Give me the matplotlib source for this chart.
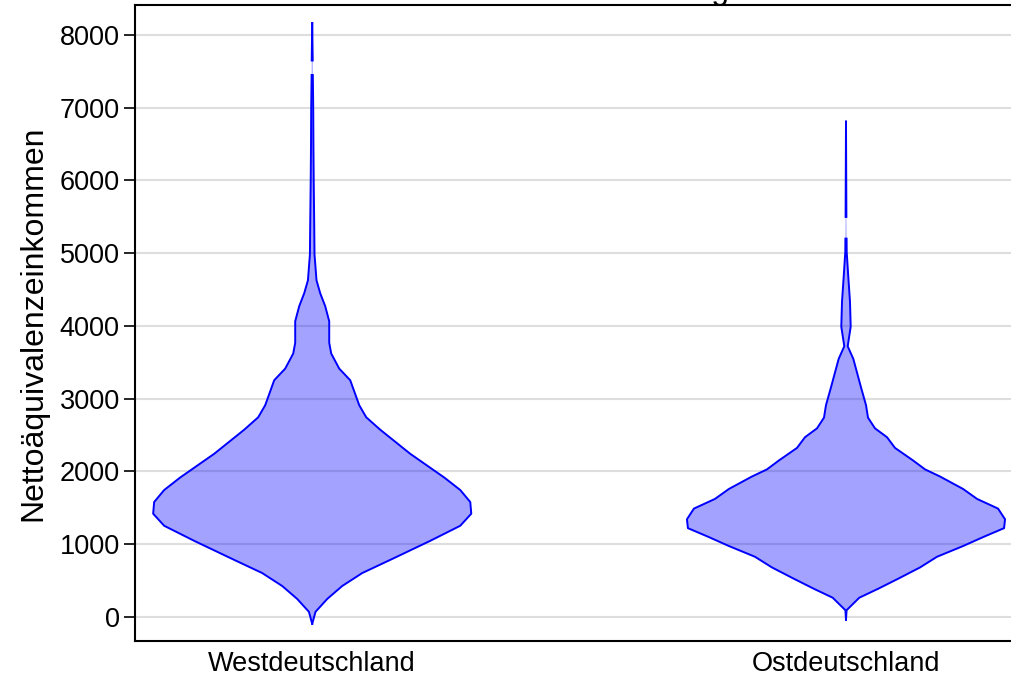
import numpy as np
import matplotlib
matplotlib.use("Agg")
import matplotlib.pyplot as plt

plt.rcParams['font.family'] = ['Liberation Sans', 'DejaVu Sans']

# === DATEN ===
regionen = ["Westdeutschland", "Ostdeutschland"]
y_ticks = [0, 1000, 2000, 3000, 4000, 5000, 6000, 7000, 8000]

# Einkommen (y) und relative Dichte (halbe Breite) je Violine
west_y = [-95, 71, 248, 426, 604, 811, 1047, 1254, 1420, 1580, 1745, 1917,
          2243, 2574, 2745, 2911, 3254, 3414, 3621, 3769, 4065, 4272, 4450,
          4627, 4982, 5400, 6000, 6500, 7000, 7450, 7650, 8165]
west_dichte = [0, 3.3, 15, 30, 50, 82, 118, 148, 159, 158, 148, 132,
               98, 68, 54, 47, 38, 27, 19, 17, 17, 13, 8,
               4.3, 2.3, 2.0, 1.5, 1.2, 1.0, 0.6, 0.5, 0]

ost_y = [-39, 93, 265, 387, 525, 681, 828, 975, 1098, 1221, 1343, 1490,
         1623, 1760, 1931, 2029, 2152, 2324, 2471, 2593, 2740, 2912, 3157,
         3549, 3721, 3990, 4333, 4676, 5020, 5200, 5500, 6809]
ost_dichte = [0, 0.6, 13.3, 32, 52, 74, 91, 117, 137, 158, 159, 152,
              131, 117, 94, 79, 67, 49, 41, 29, 22, 20, 15,
              7.3, 1.7, 4.7, 4, 2.3, 0.7, 0.6, 0.4, 0]

# Bereiche, in denen die Kontur im Original verblasst
west_luecke = (7450, 7650)
ost_luecke = (5200, 5500)

# === PLOT ===
BREITE = 0.298
fig = plt.figure(figsize=(10.12, 6.76), dpi=100)
ax = fig.add_axes([135 / 1012, 35 / 676, 1 - 135 / 1012, 636 / 676])

for pos, ys, ds, luecke in [(0, west_y, west_dichte, west_luecke),
                            (1, ost_y, ost_dichte, ost_luecke)]:
    ys = np.array(ys, dtype=float)
    ds = np.array(ds, dtype=float)
    w = ds / ds.max() * BREITE
    ax.fill_betweenx(ys, pos - w, pos + w, facecolor=(0, 0, 1, 0.36),
                     edgecolor='none', zorder=2)
    # Kontur in zwei Stücken (unter / über der Lücke)
    for teil in [ys <= luecke[0], ys >= luecke[1]]:
        ax.plot(pos + w[teil], ys[teil], color='blue', lw=1.4, zorder=3)
        ax.plot(pos - w[teil], ys[teil], color='blue', lw=1.4, zorder=3)

ax.set_xlim(-0.332, 1.311)
ax.set_ylim(-330, 8412)
ax.set_xticks([0, 1])
ax.set_xticklabels(regionen)
ax.set_yticks(y_ticks)
ax.yaxis.grid(True, color='#dedede', lw=1.5, zorder=0)
ax.set_axisbelow(True)
ax.tick_params(axis='x', length=0, labelsize=19.5, pad=7)
ax.tick_params(axis='y', length=8, width=1.2, labelsize=19.5, pad=3)
ax.set_ylabel("Nettoäquivalenzeinkommen", fontsize=23, labelpad=8)

for s in ['left', 'bottom', 'top']:
    ax.spines[s].set_linewidth(1.5)
ax.spines['right'].set_visible(False)

# Titel liegt im Original fast vollständig oberhalb des Bildes
fig.text(729 / 1012, 1.0015, "Einkommensverteilung", fontsize=23,
         ha='right', va='baseline')

fig.savefig("out.png", dpi=100)
